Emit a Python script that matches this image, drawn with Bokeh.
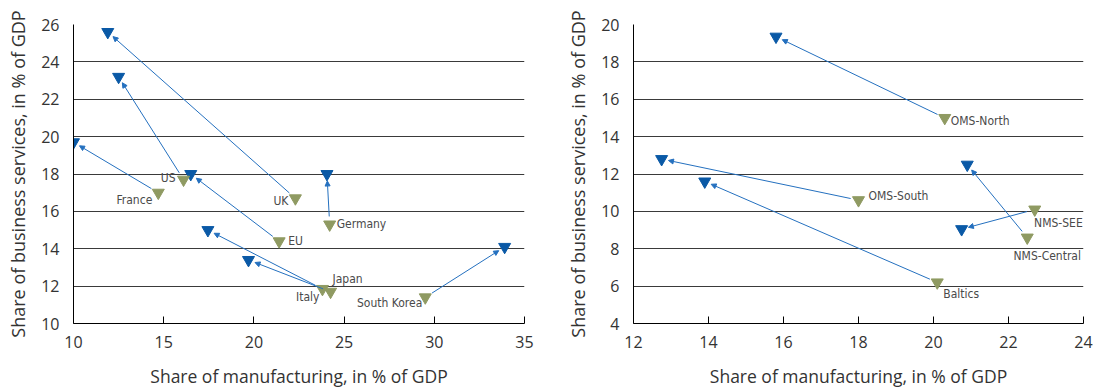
import math
from bokeh.plotting import figure
from bokeh.models import ColumnDataSource, Arrow, NormalHead, LabelSet, FixedTicker, Range1d
from bokeh.layouts import row
from bokeh.embed import file_html
from bokeh.resources import INLINE
from bokeh.core.properties import value

# ---------------- data ----------------
# Left panel: advanced economies (earlier period -> later period)
left_names = ["France", "US", "UK", "EU", "Germany", "Italy", "Japan", "South Korea"]
left_manuf_early = [14.7, 16.1, 22.3, 21.4, 24.2, 23.8, 24.25, 29.5]
left_serv_early = [17.0, 17.7, 16.7, 14.4, 15.3, 11.85, 11.7, 11.4]
left_manuf_late = [10.0, 12.5, 11.9, 16.5, 24.05, 17.45, 19.7, 33.9]
left_serv_late = [19.7, 23.2, 25.6, 18.0, 18.0, 15.0, 13.4, 14.1]
left_xticks = [10, 15, 20, 25, 30, 35]
left_yticks = [10, 12, 14, 16, 18, 20, 22, 24, 26]

# Right panel: EU country groups
right_names = ["OMS-North", "OMS-South", "Baltics", "NMS-Central", "NMS-SEE"]
right_manuf_early = [20.3, 18.0, 20.1, 22.5, 22.7]
right_serv_early = [15.0, 10.6, 6.2, 8.6, 10.1]
right_manuf_late = [15.8, 12.75, 13.9, 20.9, 20.75]
right_serv_late = [19.35, 12.8, 11.6, 12.5, 9.05]
right_xticks = [12, 14, 16, 18, 20, 22, 24]
right_yticks = [4, 6, 8, 10, 12, 14, 16, 18, 20]

x_title = "Share of manufacturing, in % of GDP"
y_title = "Share of business services, in % of GDP"

# ---------------- styles ----------------
BLUE = "#0a59a6"
GREEN = "#8f9a62"
ARROW_C = "#2470bf"
LABEL_C = "#4a4a4a"
AXIS_TEXT = "#333333"
GRID_C = "#3a3a3a"
LABEL_FONT = "DejaVu Sans Condensed"

left_label_style = {
    "France": (-6, -7, "right"),
    "US": (-8, 2, "right"),
    "UK": (-7, -3, "right"),
    "EU": (9, 0, "left"),
    "Germany": (7, 0, "left"),
    "Italy": (-3, -8, "right"),
    "Japan": (2, 13, "left"),
    "South Korea": (-3, -6, "right"),
}
right_label_style = {
    "OMS-North": (6, -3, "left"),
    "OMS-South": (10, 4, "left"),
    "Baltics": (6, -12, "left"),
    "NMS-Central": (20, -18, "center"),
    "NMS-SEE": (48, -13, "right"),
}


def panel(names, xe, ye, xl, yl, xticks, yticks, label_style,
          width, height, bl, br, bt, bb):
    xr = (xticks[0], xticks[-1])
    yr = (yticks[0], yticks[-1])
    p = figure(width=width, height=height,
               x_range=Range1d(*xr), y_range=Range1d(*yr),
               output_backend="svg", toolbar_location=None,
               min_border_left=bl, min_border_right=br,
               min_border_top=bt, min_border_bottom=bb)
    p.outline_line_color = None
    p.background_fill_color = "white"
    p.border_fill_color = "white"
    p.xgrid.visible = False
    p.ygrid.ticker = FixedTicker(ticks=yticks)
    p.ygrid.grid_line_color = GRID_C
    p.ygrid.grid_line_width = 1

    p.xaxis.ticker = FixedTicker(ticks=xticks)
    p.yaxis.ticker = FixedTicker(ticks=yticks)
    for ax in (p.xaxis[0], p.yaxis[0]):
        ax.axis_line_color = "black"
        ax.axis_line_width = 1
        ax.major_label_text_font = "Open Sans"
        ax.major_label_text_font_size = "16px"
        ax.major_label_text_color = AXIS_TEXT
        ax.axis_label_text_font = "Open Sans"
        ax.axis_label_text_font_style = "normal"
        ax.axis_label_text_color = AXIS_TEXT
        ax.minor_tick_line_color = None
    p.xaxis.axis_label_text_font_size = "17.5px"
    p.yaxis.axis_label_text_font_size = "18px"
    p.xaxis.major_tick_in = 7
    p.xaxis.major_tick_out = 0
    p.xaxis.major_tick_line_color = "black"
    p.xaxis.major_label_standoff = 12
    p.xaxis.axis_label = x_title
    p.xaxis.axis_label_standoff = 13
    p.yaxis.major_tick_in = 0
    p.yaxis.major_tick_out = 0
    p.yaxis.major_label_standoff = 14
    p.yaxis.axis_label = y_title
    p.yaxis.axis_label_standoff = 8

    # arrows from earlier to later observation, trimmed near the markers
    fw = width - bl - br
    fh = height - bt - bb
    kx = fw / (xr[1] - xr[0])
    ky = fh / (yr[1] - yr[0])
    xs0, ys0, xs1, ys1 = [], [], [], []
    for a, b, c, d in zip(xe, ye, xl, yl):
        dxp = (c - a) * kx
        dyp = (d - b) * ky
        L = math.hypot(dxp, dyp)
        ux, uy = dxp / L, dyp / L
        trim_s, trim_e = 8.0, 7.0
        xs0.append(a + ux * trim_s / kx)
        ys0.append(b + uy * trim_s / ky)
        xs1.append(c - ux * trim_e / kx)
        ys1.append(d - uy * trim_e / ky)
    asrc = ColumnDataSource(dict(x0=xs0, y0=ys0, x1=xs1, y1=ys1))
    p.add_layout(Arrow(source=asrc, x_start="x0", y_start="y0", x_end="x1", y_end="y1",
                       line_color=ARROW_C, line_width=1,
                       end=NormalHead(size=5, line_color=ARROW_C, fill_color=ARROW_C,
                                      line_width=1)))

    p.scatter(xl, yl, marker="inverted_triangle", size=12,
              fill_color=BLUE, line_color=BLUE)
    p.scatter(xe, ye, marker="inverted_triangle", size=12,
              fill_color=GREEN, line_color=GREEN)

    lsrc = ColumnDataSource(dict(
        x=xe, y=ye, text=names,
        dx=[label_style[n][0] for n in names],
        dy=[label_style[n][1] for n in names],
        al=[label_style[n][2] for n in names],
    ))
    p.add_layout(LabelSet(source=lsrc, x="x", y="y", text="text",
                          x_offset="dx", y_offset="dy", text_align="al",
                          text_baseline="middle",
                          text_font=value(LABEL_FONT),
                          text_font_size="12px", text_color=LABEL_C))
    return p


left = panel(left_names, left_manuf_early, left_serv_early,
             left_manuf_late, left_serv_late, left_xticks, left_yticks,
             left_label_style, 546, 391, 73, 22, 24, 68)
right = panel(right_names, right_manuf_early, right_serv_early,
              right_manuf_late, right_serv_late, right_xticks, right_yticks,
              right_label_style, 547, 391, 87, 10, 24, 68)

layout = row(left, right, spacing=0)
open("out.html", "w").write(file_html(layout, INLINE))
